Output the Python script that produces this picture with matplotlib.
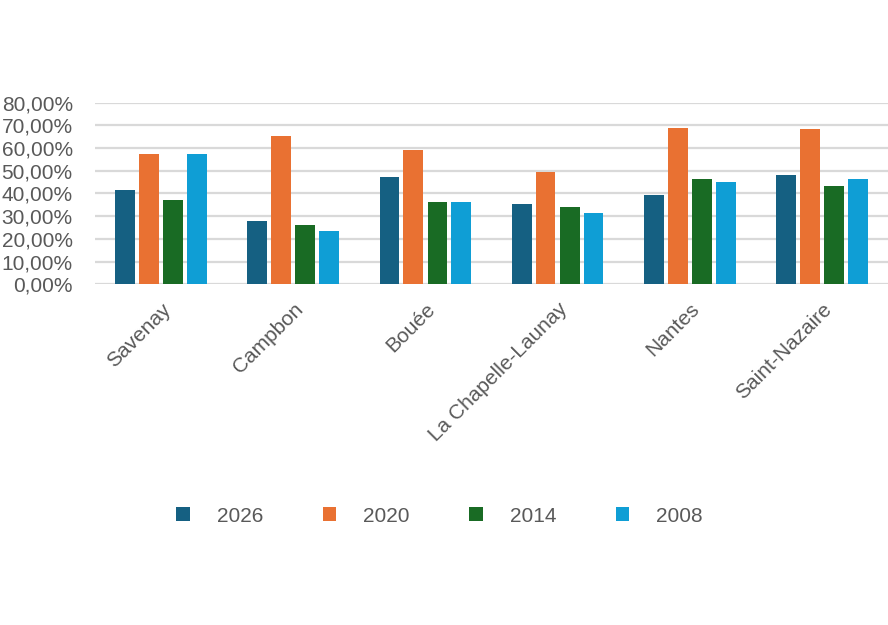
import matplotlib
matplotlib.use("Agg")
import matplotlib.pyplot as plt
import numpy as np
from matplotlib.ticker import FuncFormatter

categories = ["Savenay", "Campbon", "Bouée", "La Chapelle-Launay", "Nantes", "Saint-Nazaire"]
series_names = ["2026", "2020", "2014", "2008"]
v2026 = [41.5, 28.0, 47.1, 35.2, 39.3, 48.3]
v2020 = [57.4, 65.2, 59.0, 49.6, 68.9, 68.4]
v2014 = [37.3, 26.3, 36.1, 34.2, 46.3, 43.4]
v2008 = [57.4, 23.3, 36.3, 31.4, 45.1, 46.3]
yticks = [0, 10, 20, 30, 40, 50, 60, 70, 80]
colors = ["#156082", "#E97132", "#196B24", "#0F9ED5"]

plt.rcParams['font.family'] = ['Liberation Sans', 'DejaVu Sans']
txt = "#595959"

fig = plt.figure(figsize=(8.88, 6.25), dpi=100)
ax = fig.add_axes([95/888, 1-284.3/625, 1-95/888, (284.3-102.7)/625])

x = np.arange(len(categories))
offsets = [-0.272, -0.091, 0.091, 0.272]
width = 0.15
handles = []
for vals, off, c, name in zip([v2026, v2020, v2014, v2008], offsets, colors, series_names):
    h = ax.bar(x + off, vals, width, color=c, label=name, zorder=3)
    handles.append(h)

ax.set_xlim(-0.5, len(categories) - 0.5)
ax.set_ylim(0, 80)
ax.set_yticks(yticks)
ax.yaxis.set_major_formatter(FuncFormatter(lambda v, p: f"{v:.2f}".replace(".", ",") + "%"))
ax.grid(axis='y', color="#d9d9d9", linewidth=1.6, zorder=0)
for s in ax.spines.values():
    s.set_visible(False)
ax.tick_params(axis='both', length=0, labelsize=15, labelcolor=txt)
ax.tick_params(axis='y', pad=16)
ax.set_xticks(x)
ax.set_xticklabels(categories, rotation=45, ha='right', rotation_mode='anchor')
ax.tick_params(axis='x', pad=11)

leg = fig.legend(handles=handles, labels=series_names, loc='center', bbox_to_anchor=(0.495, 1-516/625),
                 ncol=4, frameon=False, fontsize=15, labelcolor=txt, handlelength=0.65, handleheight=0.65,
                 columnspacing=2.85, handletextpad=1.3)

fig.savefig("out.png", dpi=100)
